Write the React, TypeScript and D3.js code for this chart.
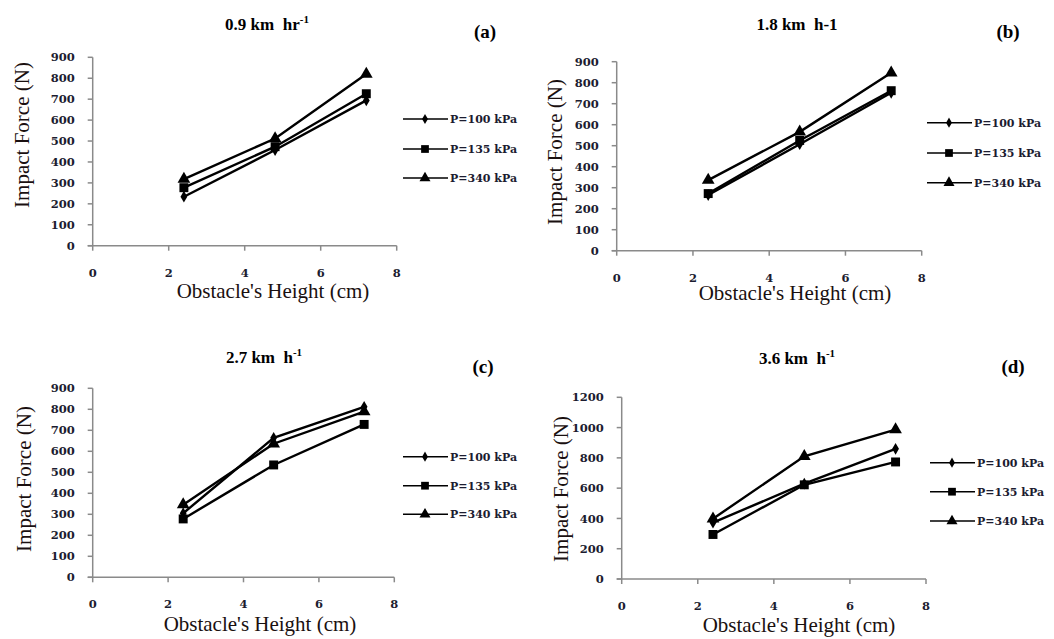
import React from 'react';
import * as d3 from 'd3';

// obstacle heights (cm)
const heights = [2.4, 4.8, 7.2];
const seriesNames = ['P=100 kPa', 'P=135 kPa', 'P=340 kPa'];
const symbols = [d3.symbolDiamond, d3.symbolSquare, d3.symbolTriangle];
const symbolSizes = [40, 80, 70];

// impact force (N) per panel, one row per tyre pressure
const forceA = [[234, 457, 694], [277, 473, 726], [318, 512, 820]];
const forceB = [[265, 507, 752], [272, 525, 762], [336, 566, 847]];
const forceC = [[305, 664, 812], [278, 535, 728], [346, 636, 789]];
const forceD = [[372, 630, 860], [294, 622, 773], [398, 810, 986]];

const panelTitles = ['0.9 km  hr', '1.8 km  h-1', '2.7 km  h', '3.6 km  h'];
const panelSup = ['-1', '', '-1', '-1'];
const panelLabels = ['(a)', '(b)', '(c)', '(d)'];
const xTicks = [0, 2, 4, 6, 8];
const yTicks900 = [0, 100, 200, 300, 400, 500, 600, 700, 800, 900];
const yTicks1200 = [0, 200, 400, 600, 800, 1000, 1200];

const panels = [
  { data: forceA, yTicks: yTicks900, x0: 92.7, x1: 396.7, y0: 245.7, y1: 57.3, tx: 267, ty: 30, lx: 485, ly: 38, legX: 403, legY: [119, 149, 178], ytx: 22, yty: 135, xtx: 273, xty: 298 },
  { data: forceB, yTicks: yTicks900, x0: 616.7, x1: 921.7, y0: 250.7, y1: 61.7, tx: 797, ty: 30, lx: 1008, ly: 38, legX: 927, legY: [122.7, 153, 182.7], ytx: 555, yty: 152, xtx: 795, xty: 300 },
  { data: forceC, yTicks: yTicks900, x0: 92.7, x1: 394.3, y0: 577.3, y1: 388.3, tx: 264, ty: 363, lx: 483, ly: 373, legX: 403, legY: [456.7, 485.7, 514.3], ytx: 24, yty: 479, xtx: 260, xty: 631 },
  { data: forceD, yTicks: yTicks1200, x0: 621.7, x1: 926, y0: 579, y1: 397.3, tx: 797, ty: 364, lx: 1013, ly: 373, legX: 930, legY: [462.7, 491.7, 521], ytx: 561, yty: 489, xtx: 799, xty: 632 },
];

const serif = "'Liberation Serif', 'Times New Roman', serif";
const tickFont = "'DejaVu Serif', serif";
const tickColor = '#1c1c30';
const titleColor = '#1a1010';
const axisColor = '#8a8a8a';

function Panel({ p, i }: { p: any; i: number }) {
  const yMax = p.yTicks[p.yTicks.length - 1];
  const x = d3.scaleLinear().domain([0, 8]).range([p.x0, p.x1]);
  const y = d3.scaleLinear().domain([0, yMax]).range([p.y0, p.y1]);
  const line = d3.line<number>()
    .x((_, k) => x(heights[k]))
    .y(d => y(d));

  return (
    <g>
      {/* axes */}
      <line x1={p.x0} x2={p.x0} y1={p.y0} y2={p.y1} stroke={axisColor} strokeWidth={1.5} />
      <line x1={p.x0 - 5} x2={p.x1} y1={p.y0} y2={p.y0} stroke={axisColor} strokeWidth={1.5} />
      {p.yTicks.map((t: number) => (
        <g key={'y' + t}>
          <line x1={p.x0 - 5} x2={p.x0} y1={y(t)} y2={y(t)} stroke={axisColor} strokeWidth={1.5} />
          <text x={p.x0 - 18} y={y(t)} dy="0.36em" textAnchor="end" fontFamily={tickFont} fontWeight="bold" fontSize={11.5} fill={tickColor}>{t}</text>
        </g>
      ))}
      {xTicks.map(t => (
        <g key={'x' + t}>
          <line x1={x(t)} x2={x(t)} y1={p.y0} y2={p.y0 + 5} stroke={axisColor} strokeWidth={1.5} />
          <text x={x(t)} y={p.y0 + 27} dy="0.36em" textAnchor="middle" fontFamily={tickFont} fontWeight="bold" fontSize={11.5} fill={tickColor}>{t}</text>
        </g>
      ))}

      {/* series */}
      {p.data.map((vals: number[], s: number) => (
        <g key={'s' + s}>
          <path d={line(vals) || ''} fill="none" stroke="#000" strokeWidth={2.4} />
          {vals.map((v, k) => (
            <path key={k} d={d3.symbol(symbols[s], symbolSizes[s])() || ''}
              transform={`translate(${x(heights[k])},${y(v)})`} fill="#000" />
          ))}
        </g>
      ))}

      {/* legend */}
      {seriesNames.map((name, s) => (
        <g key={'l' + s}>
          <line x1={p.legX} x2={p.legX + 45} y1={p.legY[s]} y2={p.legY[s]} stroke="#000" strokeWidth={1.5} />
          <path d={d3.symbol(symbols[s], symbolSizes[s] * 0.75)() || ''}
            transform={`translate(${p.legX + 22},${p.legY[s]})`} fill="#000" />
          <text x={p.legX + 47} y={p.legY[s]} dy="0.36em" fontFamily={tickFont} fontWeight="bold" fontSize={11} fill={tickColor}>{name}</text>
        </g>
      ))}

      {/* titles */}
      <text x={p.tx} y={p.ty} textAnchor="middle" fontFamily={serif} fontWeight="bold" fontSize={17} fill="#000" style={{ whiteSpace: 'pre' }}>
        {panelTitles[i]}
        {panelSup[i] && <tspan dy={-7} fontSize={11}>{panelSup[i]}</tspan>}
      </text>
      <text x={p.lx} y={p.ly} textAnchor="middle" fontFamily={serif} fontWeight="bold" fontSize={19} fill="#000">{panelLabels[i]}</text>
      <text transform={`translate(${p.ytx},${p.yty}) rotate(-90)`} textAnchor="middle" dy="0.35em" fontFamily={serif} fontSize={21} fill={titleColor}>Impact Force (N)</text>
      <text x={p.xtx} y={p.xty} textAnchor="middle" fontFamily={serif} fontSize={21} fill={titleColor}>Obstacle's Height (cm)</text>
    </g>
  );
}

export default function App() {
  return (
    <svg width={1054} height={639} style={{ position: 'absolute', left: 0, top: 0, background: '#fff' }}>
      {panels.map((p, i) => <Panel key={i} p={p} i={i} />)}
    </svg>
  );
}
